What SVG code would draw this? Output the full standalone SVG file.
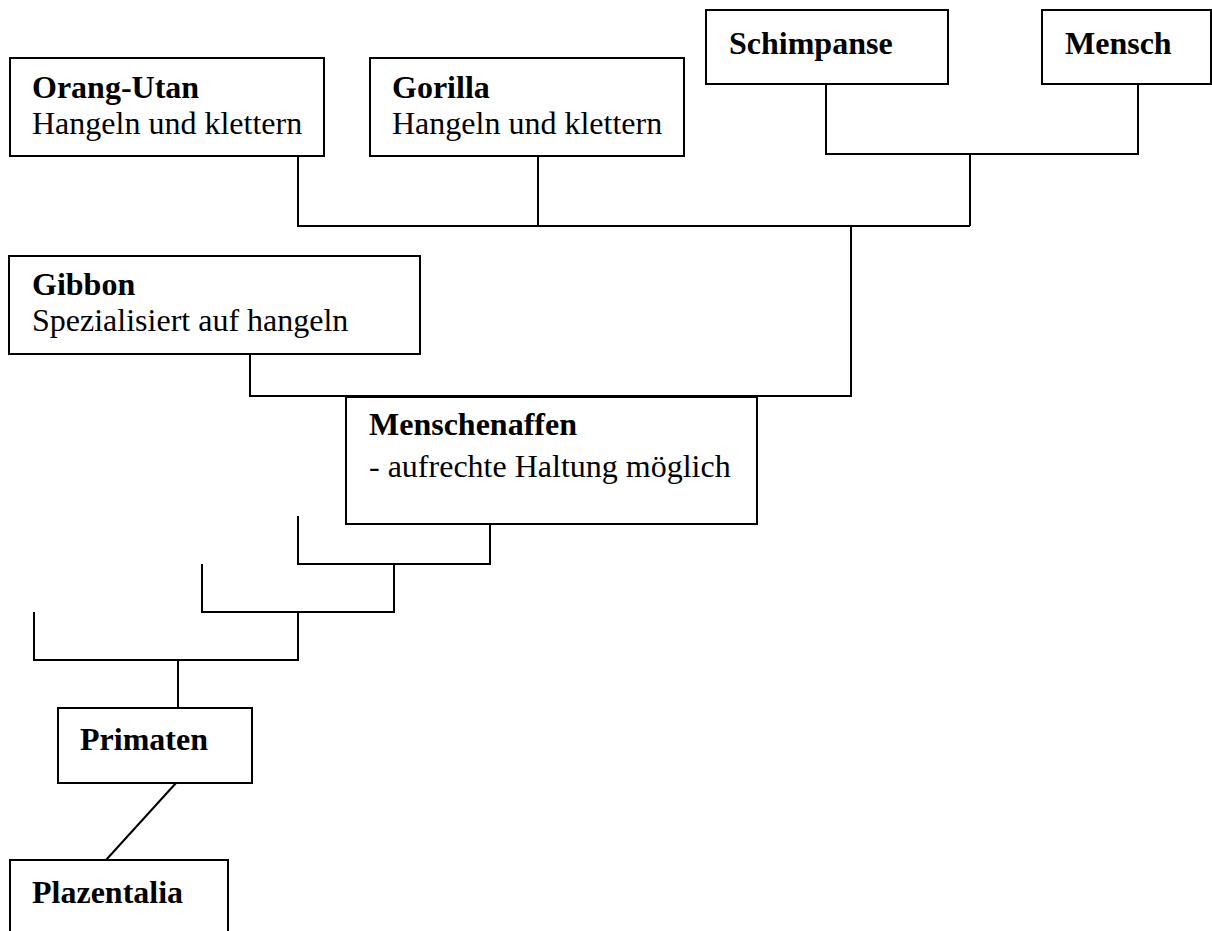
<svg xmlns="http://www.w3.org/2000/svg" width="1212" height="931" viewBox="0 0 1212 931">
<style>
.box{fill:#fff;stroke:#000;stroke-width:2}
.ln{fill:none;stroke:#000;stroke-width:2}
text{font-family:"Liberation Serif","Times New Roman",serif;font-size:32px;fill:#000}
.b{font-weight:bold}
</style>
<rect width="1212" height="931" fill="#fff"/>
<g id="connectors">
<polyline class="ln" points="298,156 298,226 970,226"/>
<line class="ln" x1="538" y1="156" x2="538" y2="226"/>
<polyline class="ln" points="826,84 826,154 1138,154 1138,84"/>
<line class="ln" x1="970" y1="154" x2="970" y2="226"/>
<polyline class="ln" points="851,226 851,396 250,396 250,354"/>
<polyline class="ln" points="298,516 298,564 490,564 490,524"/>
<polyline class="ln" points="202,564 202,612 394,612 394,564"/>
<polyline class="ln" points="34,612 34,660 298,660 298,612"/>
<line class="ln" x1="178" y1="660" x2="178" y2="708"/>
<line class="ln" x1="176" y1="783" x2="106" y2="860"/>
</g>
<g id="orang-utan">
<rect class="box" x="10" y="58" width="314" height="98"/>
<text class="b" x="32" y="98">Orang-Utan</text>
<text x="32" y="134">Hangeln und klettern</text>
</g>
<g id="gorilla">
<rect class="box" x="370" y="58" width="314" height="98"/>
<text class="b" x="392" y="98">Gorilla</text>
<text x="392" y="134">Hangeln und klettern</text>
</g>
<g id="schimpanse">
<rect class="box" x="706" y="10" width="242" height="74"/>
<text class="b" x="729" y="54">Schimpanse</text>
</g>
<g id="mensch">
<rect class="box" x="1042" y="10" width="169" height="74"/>
<text class="b" x="1065" y="54">Mensch</text>
</g>
<g id="gibbon">
<rect class="box" x="9" y="256" width="411" height="98"/>
<text class="b" x="32" y="295">Gibbon</text>
<text x="32" y="331">Spezialisiert auf hangeln</text>
</g>
<g id="menschenaffen">
<rect class="box" x="346" y="397" width="411" height="127"/>
<text class="b" x="369" y="435">Menschenaffen</text>
<text x="369" y="477">- aufrechte Haltung möglich</text>
</g>
<g id="primaten">
<rect class="box" x="58" y="708" width="194" height="75"/>
<text class="b" x="80" y="750">Primaten</text>
</g>
<g id="plazentalia">
<rect class="box" x="10" y="860" width="218" height="90"/>
<text class="b" x="32" y="903">Plazentalia</text>
</g>
</svg>
